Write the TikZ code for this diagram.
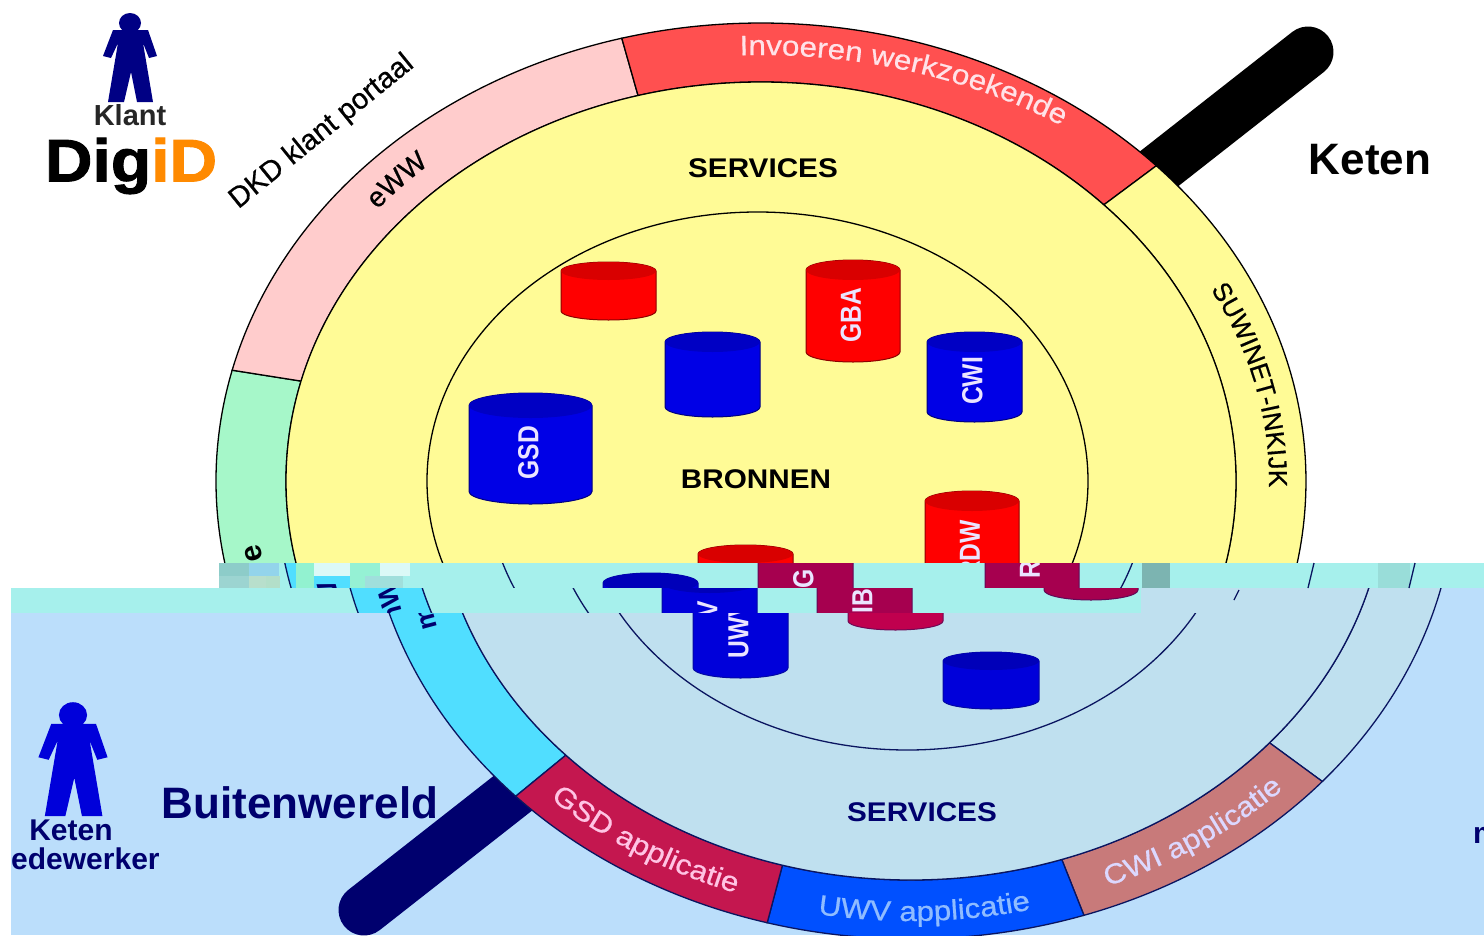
\documentclass[tikz,border=0pt]{standalone}
\usepackage{fontspec}
\setmainfont{Liberation Sans}
\newfontfamily\breed{Liberation Sans}[FakeStretch=1.1]
\newfontfamily\breedzwaar{Liberation Sans}[FakeStretch=1.12,FakeBold=0.6]
\newfontfamily\zwaar{Liberation Sans}[FakeBold=0.6]
\newfontfamily\smal{Liberation Sans}[FakeStretch=0.85]
\newfontfamily\logo{Liberation Sans}[FakeStretch=1.1,FakeBold=1.5]
\usetikzlibrary{decorations.text, positioning}

\newcommand{\fnt}[1]{\fontsize{#1}{#1}\selectfont}
\newcommand{\ringfont}{\breedzwaar\fnt{28}}

% kleuren van de banden
\newcommand{\paletboven}{%
  \colorlet{schijfkl}{schijfgeel}\colorlet{vakrood}{rood1}\colorlet{vakroze}{roze1}\colorlet{vakgroen}{groen1}%
  \colorlet{vakgsd}{gsd1}\colorlet{vakuwv}{uwv1}\colorlet{vakcwi}{cwi1}%
  \colorlet{vatrood}{red}\colorlet{vatblauw}{blauw1}\colorlet{balkkl}{black}\colorlet{lijnkl}{black}\colorlet{tekstkl}{black}}
\newcommand{\paletmidden}{%
  \colorlet{schijfkl}{mid1}\colorlet{vakrood}{mid1}\colorlet{vakroze}{mid1}\colorlet{vakgroen}{groen2}%
  \colorlet{vakgsd}{gsd1}\colorlet{vakuwv}{uwv1}\colorlet{vakcwi}{cwi1}%
  \colorlet{vatrood}{paars1}\colorlet{vatblauw}{blauw2}\colorlet{balkkl}{navy1}\colorlet{lijnkl}{navy2}\colorlet{tekstkl}{navy1}}
\newcommand{\paletonder}{%
  \colorlet{schijfkl}{mid2}\colorlet{vakrood}{mid2}\colorlet{vakroze}{mid2}\colorlet{vakgroen}{groen2}%
  \colorlet{vakgsd}{gsd1}\colorlet{vakuwv}{uwv1}\colorlet{vakcwi}{cwi1}%
  \colorlet{vatrood}{paars2}\colorlet{vatblauw}{blauw2}\colorlet{balkkl}{navy1}\colorlet{lijnkl}{navy2}\colorlet{tekstkl}{navy1}}

\definecolor{schijfgeel}{HTML}{FFFB96}
\definecolor{rood1}{HTML}{FF5050}
\definecolor{roze1}{HTML}{FFCCCC}
\definecolor{groen1}{HTML}{A6F7C9}
\definecolor{groen2}{HTML}{50DEFF}
\definecolor{gsd1}{HTML}{C4174F}
\definecolor{uwv1}{HTML}{0050FF}
\definecolor{cwi1}{HTML}{C87A7A}
\definecolor{blauw1}{HTML}{0000E6}
\definecolor{blauw2}{HTML}{0000DA}
\definecolor{paars1}{HTML}{A6004F}
\definecolor{paars2}{HTML}{C0004E}
\definecolor{mid1}{HTML}{A6F0EC}
\definecolor{mid2}{HTML}{BFE0EF}
\definecolor{lucht}{HTML}{BBDEFB}
\definecolor{navy1}{HTML}{00006E}
\definecolor{navy2}{HTML}{0A1560}
\definecolor{oranje}{HTML}{FF8A00}
\definecolor{etiket}{HTML}{EAE4FF}
\definecolor{tekstrood}{HTML}{FFE2E8}
\definecolor{tekstgsd}{HTML}{FFC4E4}
\definecolor{tekstuwv}{HTML}{8FBCFF}
\definecolor{tekstcwi}{HTML}{DCD8FF}

\tikzset{
  ringlijn/.style={draw=lijnkl, line width=1.3pt},
  vatlabel/.style={font=\smal\fnt{29}\bfseries, text=etiket, rotate=90},
  koptekst/.style={font=\breed\fnt{27}\bfseries, text=tekstkl},
  grootlabel/.style={font=\fnt{44}\bfseries},
  naamlabel/.style={font=\fnt{30}\bfseries},
  persoon/.pic={
    \fill (0,0) ellipse [x radius=11, y radius=10];
    \fill (-17,7) -- (18,7) -- (27,33) -- (19,35) -- (13,20) -- (23,79) -- (7,79)
      -- (1,49) -- (-6,79) -- (-22,79) -- (-12,20) -- (-19,35) -- (-27,33) -- cycle;
  }
}

% vak van de buitenste ring
\newcommand{\ringvak}[5]{
  \draw[ringlijn, fill=#5] ([shift={(#1:545 and 458)}]hart)
    arc[start angle=#1, end angle=#2, x radius=545, y radius=458]
    -- ([shift={(#3:475 and 399)}]hart)
    arc[start angle=#3, end angle=#4, x radius=475, y radius=399] -- cycle;
}

% tekst langs de ring
\newcommand{\ringtekst}[6]{
  \path[decorate, decoration={text along path, text align=center, text={|#5|#6}}]
    ([shift={(#1:#3 and #4)}]hart) arc[start angle=#1, end angle=#2, x radius=#3, y radius=#4];
}

% vat: links, rechts, boven, onder, kap, kleur, naam, label
\newcommand{\vat}[8]{
  \draw[fill=#6, draw=lijnkl!45!#6, line width=1pt] (#1,#3+#5)
    arc[start angle=180, end angle=360, x radius=#2/2-#1/2, y radius=#5]
    -- (#2,#4-#5)
    arc[start angle=0, end angle=180, x radius=#2/2-#1/2, y radius=#5] -- cycle;
  \fill[#6!85!black] (#1,#3+#5)
    arc[start angle=180, end angle=360, x radius=#2/2-#1/2, y radius=#5]
    arc[start angle=0, end angle=180, x radius=#2/2-#1/2, y radius=#5];
  \node[vatlabel] (#7) at (#1/2+#2/2-2,#3/2+#4/2+4) {#8};
}

% de hele schijf
\newcommand{\schijf}{
  \coordinate (hart) at (761,481);
  \coordinate (balkboven) at (1308,52);
  \coordinate (balkonder) at (214,910);
  \draw[balkkl, line width=51pt, line cap=round] (balkboven) -- (balkonder);

  \ringvak{136.5}{194}{194.5}{136.6}{vakgroen}
  \ringvak{194}{255.2}{255}{194.5}{vakroze}
  \ringvak{255.2}{316.5}{316.2}{255}{vakrood}
  \ringvak{316.5}{401}{401}{316.2}{schijfkl}
  \ringvak{41}{71.5}{71.5}{41}{vakcwi}
  \ringvak{71.5}{105.3}{105.7}{71.5}{vakuwv}
  \ringvak{105.3}{136.5}{136.6}{105.7}{vakgsd}
  \draw[ringlijn, fill=schijfkl] (hart) ellipse [x radius=475, y radius=399];
  \draw[ringlijn] (757.5,481) ellipse [x radius=330.5, y radius=269];

  \ringtekst{265.7}{305.7}{545}{426}{\ringfont\color{tekstrood}}{Invoeren werkzoekende}
  \ringtekst{213}{235}{500}{423}{\zwaar\fnt{28}\color{tekstkl}}{eWW}
  \ringtekst{320}{374}{508}{412}{\zwaar\fnt{26}\color{tekstkl}}{SUWINET-INKIJK}
  \ringtekst{137.6}{105.6}{525}{437}{\ringfont\color{tekstgsd}}{GSD applicatie}
  \ringtekst{105}{72}{525}{440}{\ringfont\color{tekstuwv}}{UWV applicatie}
  \ringtekst{71.3}{41.3}{525}{437}{\ringfont\color{tekstcwi}}{CWI applicatie}
  \node[font=\fnt{30}\bfseries, text=tekstkl, rotate=105] (ringe) at (254,553) {e};
  \node[font=\fnt{27}\bfseries, text=tekstkl, rotate=105] (ringm) at (272,606) {mW};

  \node[koptekst] (servboven) at (763,168) {SERVICES};
  \node[koptekst] (servonder) at (772,812) {SERVICES};
  \node[koptekst] (bronnen) at (756,479) {BRONNEN};

  \vat{561}{656}{262}{320}{9}{vatrood}{vat1}{}
  \vat{806}{900}{260}{362}{10}{vatrood}{vatgba}{GBA}
  \vat{925}{1019}{491}{600}{10}{vatrood}{vatrdw}{RDW}
  \vat{698}{793}{545}{630}{9}{vatrood}{vatibg}{IBG}
  \vat{665}{760}{332}{417}{10}{vatblauw}{vat2}{}
  \vat{927}{1022}{332}{422}{10}{vatblauw}{vatcwi}{CWI}
  \vat{469}{592}{393}{504}{12.5}{vatblauw}{vatgsd}{GSD}
  \vat{543}{638}{573}{678}{10}{vatblauw}{vatuwv}{UWV}
  \vat{793}{889}{652}{709}{9}{vatblauw}{vat3}{}
}

% band: x1, y1, x2, y2, verschuiving, palet, achtergrond
\newcommand{\band}[7]{
  \begin{scope}
    \clip (#1,#2) rectangle (#3,#4);
    \fill[#7] (#1,#2) rectangle (#3,#4);
    #6
    \begin{scope}[shift={(#5,0)}]
      \schijf
    \end{scope}
  \end{scope}
}

\begin{document}
\begin{tikzpicture}[x=1pt, y=-1pt]
  \useasboundingbox (0,0) rectangle (1484,935);
  \clip (0,0) rectangle (1484,935);

  % bovenste deel
  \band{0}{0}{1484}{563}{0}{\paletboven}{white}

  % verschoven banden
  \band{219}{563}{1172}{588}{60}{\paletmidden}{mid1}
  \band{11}{588}{1141}{613}{119}{\paletmidden}{mid1}
  \fill[mid1] (1172,563) rectangle (1484,588);
  \fill[mid2] (1141,588) rectangle (1260,613);
  \band{1260}{588}{1484}{613}{150}{\paletonder}{lucht}

  % onderste deel
  \band{11}{613}{1484}{935}{150}{\paletonder}{lucht}

  % storing in de banden
  \fill[black!25!mid1] (1142,563) rectangle (1170,588);
  \fill[black!8!mid1] (1378,563) rectangle (1410,588);
  \draw[navy2, line width=1.3pt] (1314,563) -- (1308,588);
  \draw[navy2, line width=1.3pt] (1415,563) -- (1409,588);
  \draw[navy2, line width=1.3pt] (1239,590) -- (1234,600);
  \foreach \x/\y/\w/\h/\k in {219/563/30/13/black!15!mid1, 249/563/30/13/cyan!15!mid1, 219/576/30/12/gray!25!mid1,
      249/576/17/12/yellow!15!mid1, 266/576/14/12/orange!15!mid1, 296/563/18/25/green!12!mid1,
      314/563/36/13/white!60!mid1, 350/563/30/25/green!10!mid1, 380/563/30/13/white!60!mid1, 365/576/38/12/gray!15!mid1}
    \fill[\k] (\x,\y) rectangle ++(\w,\h);

  % klant
  \pic[navy1!85!blue] at (130,23) {persoon};
  \node[naamlabel, font=\fnt{29}\bfseries, text=black!85] (klant) at (130,115) {Klant};
  \node[font=\logo\fnt{60}\bfseries] (digid) at (131,166) {Dig\textcolor{oranje}{iD}};
  \node[font=\zwaar\fnt{29}, rotate=39] (dkd) at (322,132) {DKD klant portaal};
  \node[grootlabel] (keten) at (1370,160) {Keten};

  % buitenwereld
  \pic[blauw2, scale=1.28] at (73,715) {persoon};
  \node[naamlabel, text=navy1] (ketennaam) at (71,830) {Keten};
  \node[naamlabel, text=navy1, anchor=base west, inner xsep=0pt] (medewerker) at (11,869) {edewerker};
  \node[naamlabel, text=navy1, anchor=base west, inner xsep=0pt] (medewerkerm) at (1473,843) {m};
  \node[grootlabel, text=navy1] (buitenwereld) at (300,803) {Buitenwereld};
\end{tikzpicture}
\end{document}
